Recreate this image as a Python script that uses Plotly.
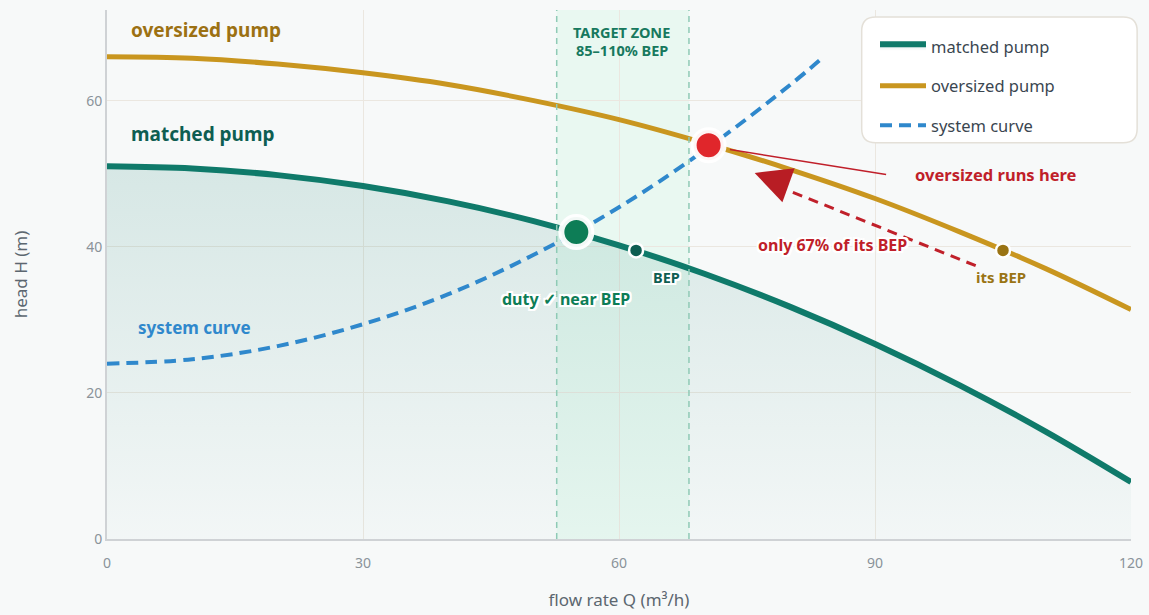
import plotly.graph_objects as go

# ---- data ----
q_pump = [0, 10, 20, 30, 40, 50, 60, 70, 80, 90, 100, 110, 120]
h_matched = [51.0, 50.7, 49.8, 48.3, 46.2, 43.5, 40.2, 36.3, 31.8, 26.7, 21.0, 14.7, 7.8]
h_oversized = [66.0, 65.8, 65.0, 63.8, 62.2, 60.0, 57.4, 54.2, 50.6, 46.6, 42.0, 37.0, 31.4]
q_system = [0, 10, 20, 30, 40, 50, 60, 70, 80, 84]
h_system = [24.0, 24.6, 26.4, 29.4, 33.5, 38.9, 45.4, 53.2, 62.1, 66.0]

duty_matched = (55, 42.0)
bep_matched = (62, 39.5)
duty_oversized = (70.5, 53.9)
bep_oversized = (105, 39.5)
zone = (52.7, 68.2)

x_ticks = [0, 30, 60, 90, 120]
y_ticks = [0, 20, 40, 60]

FONT = "Noto Sans"
TEAL = "#0f7a6a"
GOLD = "#c9961f"
BLUE = "#2f88cc"
RED = "#c01f2a"
BG = "#f7f9f9"

fig = go.Figure()

halo = "-2px -2px 0 #fff, 2px -2px 0 #fff, -2px 2px 0 #fff, 2px 2px 0 #fff, 0 2px 0 #fff, 0 -2px 0 #fff, 2px 0 0 #fff, -2px 0 0 #fff"

fig.add_trace(go.Scatter(
    x=q_pump, y=h_matched, mode="lines", name="matched pump",
    line=dict(color=TEAL, width=6, shape="spline"),
    fill="tozeroy",
    fillgradient=dict(type="vertical", start=0, stop=51,
                      colorscale=[[0, "rgba(15,122,106,0.02)"], [1, "rgba(15,122,106,0.14)"]]),
    legendgroup="a",
))
fig.add_trace(go.Scatter(
    x=q_pump, y=h_oversized, mode="lines", name="oversized pump",
    line=dict(color=GOLD, width=5, shape="spline"), legendgroup="b",
))
fig.add_trace(go.Scatter(
    x=q_system, y=h_system, mode="lines", name="system curve",
    line=dict(color=BLUE, width=4, dash="12px,7px", shape="spline"), legendgroup="c",
))

# dashed red arrow shaft from oversized BEP toward its duty point
arrow_from = (101.8, 37.4)
arrow_to = (77.5, 48.8)
fig.add_trace(go.Scatter(
    x=[arrow_from[0], arrow_to[0]], y=[arrow_from[1], arrow_to[1]], mode="lines",
    line=dict(color="#c0202a", width=3, dash="10px,7px"), showlegend=False, hoverinfo="skip",
))

# markers
fig.add_trace(go.Scatter(x=[bep_matched[0]], y=[bep_matched[1]], mode="markers",
                         marker=dict(size=14, color="#0e5e52", line=dict(color="white", width=2.5)),
                         showlegend=False))
fig.add_trace(go.Scatter(x=[bep_oversized[0]], y=[bep_oversized[1]], mode="markers",
                         marker=dict(size=14, color="#9a7414", line=dict(color="white", width=2.5)),
                         showlegend=False))
fig.add_trace(go.Scatter(x=[duty_matched[0]], y=[duty_matched[1]], mode="markers",
                         marker=dict(size=30, color="#0d7d56", line=dict(color="rgba(255,255,255,0.95)", width=6)),
                         showlegend=False))
fig.add_trace(go.Scatter(x=[duty_oversized[0]], y=[duty_oversized[1]], mode="markers",
                         marker=dict(size=30, color="#e0262b", line=dict(color="rgba(255,255,255,0.95)", width=6)),
                         showlegend=False))

# target zone
fig.add_shape(type="rect", x0=zone[0], x1=zone[1], y0=0, y1=1, xref="x", yref="paper",
              fillcolor="rgba(205,246,226,0.35)", line_width=0, layer="below")
for zx in zone:
    fig.add_shape(type="line", x0=zx, x1=zx, y0=0, y1=1, xref="x", yref="paper",
                  line=dict(color="#8fcab6", width=1.5, dash="6px,5px"), layer="above")

# leader line for "oversized runs here"
fig.add_shape(type="line", x0=73.0, y0=53.3, x1=91.3, y1=49.9, xref="x", yref="y",
              line=dict(color=RED, width=1.5), layer="above")

# rounded legend box
rx, ry = 14 / 1024, 14 / 529
x0, x1, y0, y1 = 0.737, 1.006, 0.749, 0.987
path = (f"M {x0+rx},{y0} L {x1-rx},{y0} Q {x1},{y0} {x1},{y0+ry} L {x1},{y1-ry} "
        f"Q {x1},{y1} {x1-rx},{y1} L {x0+rx},{y1} Q {x0},{y1} {x0},{y1-ry} "
        f"L {x0},{y0+ry} Q {x0},{y0} {x0+rx},{y0} Z")
fig.add_shape(type="path", path=path, xref="paper", yref="paper",
              fillcolor="white", line=dict(color="#e4e0d8", width=1.5), layer="above")

ann = []
ann.append(dict(x=2.6, y=69.6, text="<b>oversized pump</b>", showarrow=False, xanchor="left",
                font=dict(family=FONT, size=19, color="#9c7113")))
ann.append(dict(x=2.6, y=55.4, text="<b>matched pump</b>", showarrow=False, xanchor="left",
                font=dict(family=FONT, size=19, color="#0e5e52")))
ann.append(dict(x=3.4, y=28.9, text="<b>system curve</b>", showarrow=False, xanchor="left",
                font=dict(family=FONT, size=17, color=BLUE)))
ann.append(dict(x=60.3, y=69.4, text="<b>TARGET ZONE</b>", showarrow=False,
                font=dict(family=FONT, size=14.5, color="#17795e")))
ann.append(dict(x=60.3, y=66.9, text="<b>85–110% BEP</b>", showarrow=False,
                font=dict(family=FONT, size=14.5, color="#17795e")))
ann.append(dict(x=53.8, y=32.9, text="<b>duty ✓ near BEP</b>", showarrow=False,
                font=dict(family=FONT, size=16, color="#0d7d56", shadow=halo)))
ann.append(dict(x=65.6, y=35.8, text="<b>BEP</b>", showarrow=False,
                font=dict(family=FONT, size=14.5, color="#0e5e52", shadow=halo)))
ann.append(dict(x=94.5, y=49.9, text="<b>oversized runs here</b>", showarrow=False, xanchor="left",
                font=dict(family=FONT, size=16.5, color=RED)))
ann.append(dict(x=85.0, y=40.3, text="<b>only 67% of its BEP</b>", showarrow=False,
                font=dict(family=FONT, size=16, color=RED, shadow=halo)))
ann.append(dict(x=104.8, y=35.8, text="<b>its BEP</b>", showarrow=False,
                font=dict(family=FONT, size=15, color="#9a7414")))
# arrowhead
ann.append(dict(x=75.9, y=50.1, ax=78.5, ay=49.0, axref="x", ayref="y", xref="x", yref="y",
                text="", showarrow=True, arrowhead=2, arrowsize=2.4, arrowwidth=3,
                arrowcolor="#b81d24"))

fig.update_layout(
    width=1149, height=615,
    paper_bgcolor=BG, plot_bgcolor=BG,
    margin=dict(l=107, r=18, t=10, b=76),
    font=dict(family=FONT, color="#5c6770"),
    annotations=ann,
    legend=dict(x=0.750, y=0.964, xanchor="left", yanchor="top", bgcolor="rgba(0,0,0,0)",
                font=dict(family=FONT, size=16.5, color="#3a4650"), tracegroupgap=15,
                itemwidth=46),
    showlegend=True,
    hovermode=False,
)
fig.update_xaxes(range=[0, 120], tickvals=x_ticks, showgrid=True, gridcolor="#ebe7e0", gridwidth=1,
                 zeroline=False, showline=True, linecolor="#cfd2d5", linewidth=2, automargin=False,
                 tickfont=dict(family=FONT, size=14, color="#8a9399"), ticks="", ticklabelstandoff=10,
                 title=dict(text="flow rate Q (m³/h)", font=dict(family=FONT, size=17, color="#5c6770"), standoff=23))
fig.update_yaxes(range=[0, 72.4], tickvals=y_ticks, showgrid=True, gridcolor="#ebe7e0", gridwidth=1,
                 zeroline=False, showline=True, linecolor="#cfd2d5", linewidth=2, automargin=False,
                 tickfont=dict(family=FONT, size=14, color="#8a9399"), ticks="",
                 title=dict(text="head H (m)", font=dict(family=FONT, size=17, color="#5c6770"), standoff=54))

fig.write_html("out.html", config={"displayModeBar": False},
               post_script="document.body.style.margin='0';document.body.style.background='" + BG + "';")
